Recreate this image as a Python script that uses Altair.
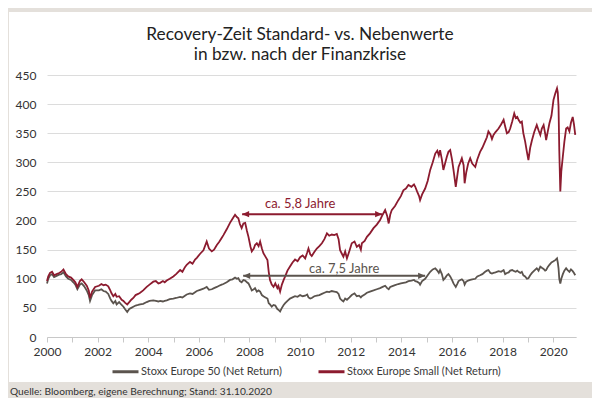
import altair as alt
import pandas as pd

# ---- data ----
years = [
    2000.00, 2000.05, 2000.12, 2000.20, 2000.28, 2000.38, 2000.48, 2000.56, 2000.65, 2000.75,
    2000.84, 2000.95, 2001.04, 2001.12, 2001.20, 2001.30, 2001.37, 2001.47, 2001.57, 2001.65,
    2001.70, 2001.78, 2001.90, 2002.05, 2002.15, 2002.23, 2002.32, 2002.42, 2002.50, 2002.55,
    2002.62, 2002.70, 2002.75, 2002.85, 2002.95, 2003.02, 2003.08, 2003.17, 2003.25, 2003.33,
    2003.41, 2003.50, 2003.60, 2003.68, 2003.80, 2003.94, 2004.05, 2004.20, 2004.30, 2004.40,
    2004.47, 2004.58, 2004.65, 2004.73, 2004.85, 2004.99, 2005.10, 2005.26, 2005.35, 2005.45,
    2005.52, 2005.65, 2005.75, 2005.85, 2005.92, 2006.05, 2006.18, 2006.31, 2006.40, 2006.51,
    2006.60, 2006.71, 2006.80, 2006.90, 2006.97, 2007.10, 2007.23, 2007.33, 2007.43, 2007.50,
    2007.56, 2007.62, 2007.69, 2007.76, 2007.83, 2007.90, 2007.96, 2008.04, 2008.09, 2008.17,
    2008.22, 2008.29, 2008.36, 2008.42, 2008.49, 2008.55, 2008.63, 2008.71, 2008.76, 2008.81,
    2008.88, 2008.95, 2009.02, 2009.10, 2009.14, 2009.21, 2009.28, 2009.35, 2009.41, 2009.50,
    2009.60, 2009.70, 2009.80, 2009.90, 2010.00, 2010.10, 2010.20, 2010.28, 2010.33, 2010.40,
    2010.46, 2010.56, 2010.66, 2010.76, 2010.86, 2010.96, 2011.06, 2011.15, 2011.25, 2011.35,
    2011.45, 2011.52, 2011.58, 2011.65, 2011.71, 2011.78, 2011.85, 2011.95, 2012.04, 2012.15,
    2012.24, 2012.33, 2012.40, 2012.44, 2012.55, 2012.64, 2012.76, 2012.90, 2013.03, 2013.16,
    2013.26, 2013.36, 2013.44, 2013.50, 2013.56, 2013.62, 2013.75, 2013.88, 2013.98, 2014.08,
    2014.18, 2014.28, 2014.40, 2014.50, 2014.55, 2014.62, 2014.70, 2014.74, 2014.82, 2014.94,
    2015.04, 2015.14, 2015.24, 2015.34, 2015.42, 2015.48, 2015.53, 2015.60, 2015.66, 2015.74,
    2015.80, 2015.86, 2015.93, 2016.00, 2016.06, 2016.15, 2016.22, 2016.26, 2016.33, 2016.39,
    2016.46, 2016.50, 2016.56, 2016.64, 2016.72, 2016.80, 2016.92, 2017.00, 2017.11, 2017.20,
    2017.31, 2017.38, 2017.44, 2017.52, 2017.58, 2017.64, 2017.72, 2017.84, 2017.94, 2018.04,
    2018.10, 2018.17, 2018.24, 2018.30, 2018.38, 2018.46, 2018.52, 2018.58, 2018.63, 2018.70,
    2018.76, 2018.82, 2018.89, 2018.96, 2019.02, 2019.09, 2019.16, 2019.25, 2019.35, 2019.42,
    2019.49, 2019.55, 2019.62, 2019.68, 2019.72, 2019.78, 2019.85, 2019.93, 2020.01, 2020.08,
    2020.15, 2020.18, 2020.21, 2020.24, 2020.28, 2020.32, 2020.38, 2020.44, 2020.51, 2020.57,
    2020.64, 2020.70, 2020.77, 2020.82, 2020.87,
]

small = [
    96, 104, 110, 112, 106, 108, 110, 112, 116, 108,
    104, 102, 98, 94, 86, 96, 99, 94, 88, 80,
    67, 78, 86, 88, 91, 89, 90, 87, 80, 75,
    70, 74, 69, 70, 64, 62, 59, 56, 60, 64,
    67, 72, 74, 76, 80, 86, 90, 95, 96, 92,
    93, 96, 94, 97, 100, 104, 108, 115, 112, 120,
    124, 129, 126, 133, 136, 143, 149, 164, 152, 147,
    150, 158, 163, 170, 175, 185, 196, 203, 210, 206,
    204, 194, 187, 195, 196, 182, 172, 155, 147, 152,
    158, 161, 156, 164, 152, 144, 138, 132, 112, 98,
    90, 86, 92, 84, 88, 78, 90, 98, 104, 114,
    121, 128, 133, 130, 137, 140, 135, 145, 152, 142,
    139, 146, 152, 156, 161, 168, 178, 174, 176, 175,
    177, 168, 149, 143, 138, 147, 135, 148, 161, 164,
    155, 158, 150, 161, 165, 172, 178, 187, 193, 201,
    210, 218, 208, 195, 210, 218, 225, 235, 242, 252,
    255, 261, 258, 262, 258, 250, 242, 235, 245, 255,
    268, 287, 300, 315, 320, 312, 321, 305, 287, 300,
    310, 318, 321, 305, 287, 258, 280, 292, 300, 307,
    295, 264, 282, 298, 307, 298, 292, 305, 318, 325,
    336, 343, 353, 348, 340, 347, 352, 358, 365, 373,
    362, 350, 352, 358, 370, 384, 376, 378, 373, 368,
    370, 350, 336, 318, 304, 325, 338, 352, 364, 355,
    347, 358, 364, 350, 338, 352, 367, 380, 407, 418,
    427, 420, 396, 320, 250, 285, 310, 335, 358, 360,
    353, 368, 378, 365, 347,
]

stoxx50 = [
    92, 100, 106, 108, 103, 105, 107, 108, 111, 104,
    100, 98, 94, 90, 82, 90, 92, 87, 80, 72,
    62, 72, 80, 80, 82, 79, 78, 74, 66, 62,
    58, 62, 56, 60, 55, 52, 48, 43, 48, 50,
    52, 54, 55, 56, 57, 60, 62, 63, 62, 61,
    62, 61, 62, 63, 65, 66, 67, 69, 68, 71,
    73, 75, 74, 77, 79, 81, 83, 86, 81, 82,
    84, 86, 88, 90, 91, 94, 98, 99, 102, 100,
    101, 96, 94, 98, 97, 94, 92, 85, 80, 82,
    84, 78, 80, 78, 72, 70, 68, 66, 58, 56,
    52, 55, 54, 48, 47, 44, 50, 55, 58, 62,
    66, 68, 70, 69, 72, 70, 71, 73, 68, 66,
    67, 70, 71, 72, 74, 76, 78, 77, 79, 78,
    77, 74, 66, 63, 61, 66, 64, 68, 72, 75,
    70, 71, 68, 70, 73, 76, 78, 80, 82, 84,
    86, 88, 84, 82, 86, 87, 89, 91, 92, 93,
    94, 96, 97, 98, 96, 95, 93, 90, 96, 100,
    106, 112, 116, 118, 114, 110, 115, 108, 98, 102,
    106, 108, 104, 98, 92, 86, 92, 96, 98, 99,
    96, 90, 95, 97, 98, 99, 100, 104, 106, 108,
    112, 114, 115, 110, 109, 110, 111, 113, 112, 115,
    108, 110, 111, 114, 115, 113, 112, 114, 112, 110,
    112, 106, 104, 100, 101, 106, 110, 114, 118, 114,
    121, 119, 117, 114, 115, 120, 124, 128, 130, 132,
    135, 128, 118, 100, 92, 100, 108, 114, 118, 115,
    112, 116, 113, 110, 106,
]

series_names = ["Stoxx Europe 50 (Net Return)", "Stoxx Europe Small (Net Return)"]
series_colors = ["#5b544e", "#8c1b2f"]

title_lines = ["Recovery-Zeit Standard- vs. Nebenwerte", "in bzw. nach der Finanzkrise"]
source_text = "Quelle: Bloomberg, eigene Berechnung; Stand: 31.10.2020"

# recovery arrows
arrow_labels = ["ca. 5,8 Jahre", "ca. 7,5 Jahre"]
arrow_start = [2007.71, 2007.75]
arrow_end = [2013.24, 2014.94]
arrow_level = [211, 105]
label_x = [2010.0, 2011.74]
label_y = [229, 117]
arrow_series = ["Stoxx Europe Small (Net Return)", "Stoxx Europe 50 (Net Return)"]

x_ticks = list(range(2000, 2021))
y_ticks = list(range(0, 451, 50))

# ---- tables ----
df = pd.DataFrame({
    "year": years * 2,
    "value": stoxx50 + small,
    "series": [series_names[0]] * len(years) + [series_names[1]] * len(years),
})
arrows = pd.DataFrame({
    "x": arrow_start, "x2": arrow_end, "y": arrow_level,
    "lx": label_x, "ly": label_y, "label": arrow_labels, "series": arrow_series,
})

FONT = "Lato"
FRAME = "#e4e0db"
xscale = alt.Scale(domain=[2000, 2020.9], nice=False, zero=False)
yscale = alt.Scale(domain=[0, 450], nice=False)
cscale = alt.Scale(domain=series_names, range=series_colors)

xaxis = alt.Axis(values=x_ticks, format="d",
                 labelExpr="datum.value % 2 == 0 ? datum.label : ''",
                 grid=False, domain=True, domainColor="#c8c8c8", ticks=True,
                 tickColor="#c8c8c8", tickSize=5, labelPadding=4, labelFlush=False,
                 labelOverlap=False, labelFont=FONT, labelFontSize=12, labelColor="#333")
yaxis = alt.Axis(values=y_ticks, grid=True, gridColor="#dcdcdc", domain=False,
                 ticks=False, labelPadding=11, labelOverlap=False, labelFont=FONT,
                 labelFontSize=12, labelColor="#333")

one = pd.DataFrame({"a": [0]})

# grey frame around the white panel (bottom band, top strip, left strip)
frame_bottom = alt.Chart(one).mark_rect(color=FRAME).encode(
    x=alt.value(-39), x2=alt.value(545), y=alt.value(307), y2=alt.value(323)
)
frame_top = alt.Chart(one).mark_rect(color=FRAME).encode(
    x=alt.value(-39), x2=alt.value(545), y=alt.value(-67), y2=alt.value(-63)
)
frame_left = alt.Chart(one).mark_rect(color=FRAME).encode(
    x=alt.value(-39), x2=alt.value(-38), y=alt.value(-67), y2=alt.value(323)
)

title1 = alt.Chart(one).mark_text(
    text=title_lines[0], font=FONT, fontSize=17.3, color="#222", align="center", baseline="alphabetic"
).encode(x=alt.value(253), y=alt.value(-35))
title2 = alt.Chart(one).mark_text(
    text=title_lines[1], font=FONT, fontSize=17.3, color="#222", align="center", baseline="alphabetic"
).encode(x=alt.value(253), y=alt.value(-15))
source = alt.Chart(one).mark_text(
    text=source_text, font=FONT, fontSize=10.2, color="#333", align="left", baseline="alphabetic"
).encode(x=alt.value(-37), y=alt.value(320))

lines = alt.Chart(df).mark_line(strokeWidth=1.8).encode(
    x=alt.X("year:Q", scale=xscale, title=None, axis=xaxis),
    y=alt.Y("value:Q", scale=yscale, title=None, axis=yaxis),
    color=alt.Color("series:N", scale=cscale,
                    legend=alt.Legend(orient="none", legendX=64, legendY=282, direction="horizontal",
                                      title=None, symbolType="stroke", symbolSize=676,
                                      symbolStrokeWidth=3, labelFont=FONT, labelFontSize=11,
                                      labelColor="#3a3a3a", columnPadding=30, labelOffset=1,
                                      labelLimit=400)),
    detail="series:N",
)

rules = alt.Chart(arrows).mark_rule(strokeWidth=2).encode(
    x=alt.X("x:Q", scale=xscale, title=None, axis=xaxis), x2="x2:Q",
    y=alt.Y("y:Q", scale=yscale, title=None, axis=yaxis),
    color=alt.Color("series:N", scale=cscale, legend=None),
)
head_left = alt.Chart(arrows).mark_point(
    shape="M0,0 L1,-0.45 L1,0.45 Z", size=196, filled=True, opacity=1
).encode(
    x=alt.X("x:Q", scale=xscale, title=None, axis=xaxis),
    y=alt.Y("y:Q", scale=yscale, title=None, axis=yaxis),
    color=alt.Color("series:N", scale=cscale, legend=None),
)
head_right = alt.Chart(arrows).mark_point(
    shape="M0,0 L-1,-0.45 L-1,0.45 Z", size=196, filled=True, opacity=1
).encode(
    x=alt.X("x2:Q", scale=xscale, title=None, axis=xaxis),
    y=alt.Y("y:Q", scale=yscale, title=None, axis=yaxis),
    color=alt.Color("series:N", scale=cscale, legend=None),
)
labels = alt.Chart(arrows).mark_text(font=FONT, fontSize=13, align="center", baseline="middle").encode(
    x=alt.X("lx:Q", scale=xscale, title=None, axis=xaxis),
    y=alt.Y("ly:Q", scale=yscale, title=None, axis=yaxis),
    text="label:N",
    color=alt.Color("series:N", scale=cscale, legend=None),
)

chart = alt.layer(frame_bottom, frame_top, frame_left, title1, title2, source,
                  lines, rules, head_left, head_right, labels).properties(
    width=529, height=262,
    autosize=alt.AutoSizeParams(type="none"),
    padding={"left": 39, "top": 67, "right": 16, "bottom": 61},
    background="white",
).configure_view(stroke=None)

chart.save("out.html", embed_options={"renderer": "svg", "actions": False})
